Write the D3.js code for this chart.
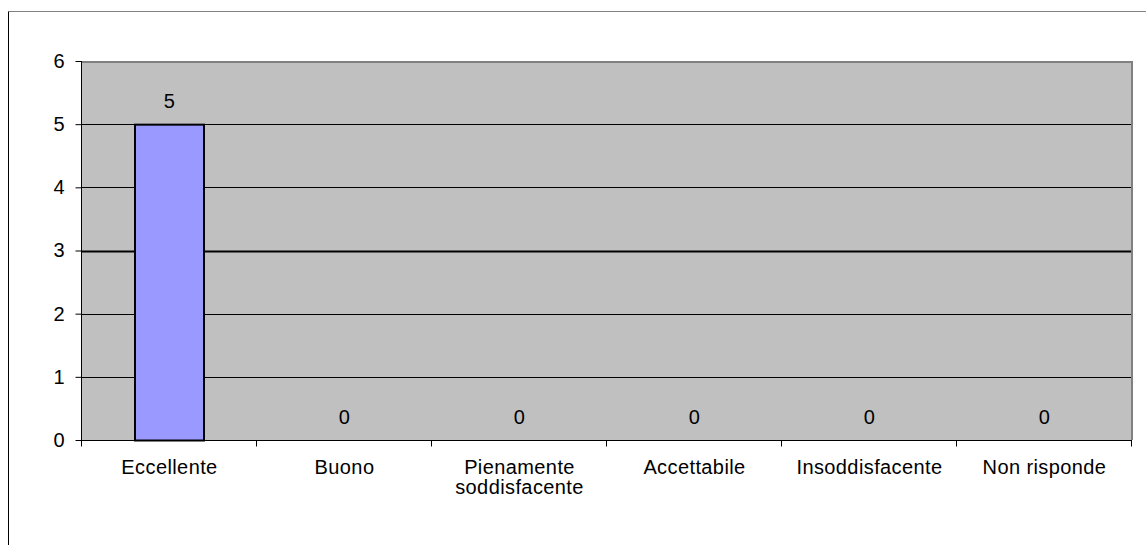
<!DOCTYPE html>
<html><head><meta charset="utf-8">
<script src="https://cdn.jsdelivr.net/npm/d3@7"></script>
<style>body{margin:0;background:#fff;} text{font-family:"Liberation Sans",Arial,sans-serif;}</style>
</head><body>
<svg id="c" width="1146" height="545"></svg>
<script>
const categories = ["Eccellente","Buono","Pienamente soddisfacente","Accettabile","Insoddisfacente","Non risponde"];
const values = [5,0,0,0,0,0];
const yTicks = [0,1,2,3,4,5,6];

const FS = 20, LS = "0.4px";
const svg = d3.select("#c");
// outer frame
svg.append("line").attr("x1",8.5).attr("y1",11.5).attr("x2",1146).attr("y2",11.5).attr("stroke","#808080").attr("stroke-width",1);
svg.append("line").attr("x1",8.5).attr("y1",11.5).attr("x2",8.5).attr("y2",545).attr("stroke","#000").attr("stroke-width",1);

const L=81, R=1131, T=61, B=440;
const x = d3.scaleBand().domain(categories).range([L,R]).paddingInner(0).paddingOuter(0);
const y = d3.scaleLinear().domain([0,6]).range([B,T]);

svg.append("rect").attr("x",L).attr("y",T).attr("width",R-L).attr("height",B-T).attr("fill","#c0c0c0");
// gridlines
svg.append("g").selectAll("line").data(yTicks.filter(d=>d>0&&d<6)).join("line")
  .attr("x1",L).attr("x2",R).attr("y1",d=>Math.round(y(d))+0.5).attr("y2",d=>Math.round(y(d))+0.5)
  .attr("stroke","#000").attr("stroke-width",d=>d===3?2:1);
// plot border top/right gray
svg.append("line").attr("x1",L).attr("x2",R+2).attr("y1",T+1).attr("y2",T+1).attr("stroke","#808080").attr("stroke-width",2);
svg.append("line").attr("x1",R+1).attr("x2",R+1).attr("y1",T).attr("y2",B).attr("stroke","#808080").attr("stroke-width",2);

// bars
const bw = 69;
svg.append("g").selectAll("rect").data(categories.map((c,i)=>({c,v:values[i]}))).join("rect")
  .filter(d=>d.v>0)
  .attr("x",d=>x(d.c)+x.bandwidth()/2-bw/2+1).attr("y",d=>y(d.v)+0.5)
  .attr("width",bw).attr("height",d=>y(0)-y(d.v))
  .attr("fill","#9999ff").attr("stroke","#000").attr("stroke-width",2);

// value labels
svg.append("g").selectAll("text").data(categories.map((c,i)=>({c,v:values[i]}))).join("text")
  .attr("x",d=>x(d.c)+x.bandwidth()/2+1).attr("y",d=>y(d.v)-16.5)
  .attr("text-anchor","middle").attr("font-size",FS).attr("letter-spacing",LS).attr("fill","#000").text(d=>d.v);

// y axis
const ya = svg.append("g").attr("transform",`translate(${L+0.5},0)`)
  .call(d3.axisLeft(y).tickValues(yTicks).tickFormat(d3.format("d")).tickSize(6).tickPadding(11));
ya.select(".domain").attr("stroke","#000").attr("d",`M0,${T}V${B+0.5}`);
ya.selectAll("text").attr("font-size",FS).attr("fill","#000").attr("font-family","Liberation Sans, Arial, sans-serif");
ya.selectAll(".tick line").attr("stroke","#000");

// x axis
const xa = svg.append("g").attr("transform",`translate(0,${B+0.5})`);
xa.append("line").attr("x1",L).attr("x2",R+1).attr("stroke","#000");
const bounds = categories.map(c=>x(c)).concat([R]);
xa.selectAll("line.t").data(bounds).join("line").attr("class","t")
  .attr("x1",d=>Math.round(d)+0.5).attr("x2",d=>Math.round(d)+0.5).attr("y1",0).attr("y2",6).attr("stroke","#000");
const labelLines = {"Pienamente soddisfacente":["Pienamente","soddisfacente"]};
categories.forEach(c=>{
  const lines = labelLines[c]||[c];
  const t = xa.append("text").attr("x",x(c)+x.bandwidth()/2+1).attr("y",33).attr("text-anchor","middle")
    .attr("font-size",FS).attr("letter-spacing",LS).attr("fill","#000");
  lines.forEach((ln,i)=>t.append("tspan").attr("x",x(c)+x.bandwidth()/2+1).attr("dy",i===0?0:20).text(ln));
});
</script>
</body></html>
